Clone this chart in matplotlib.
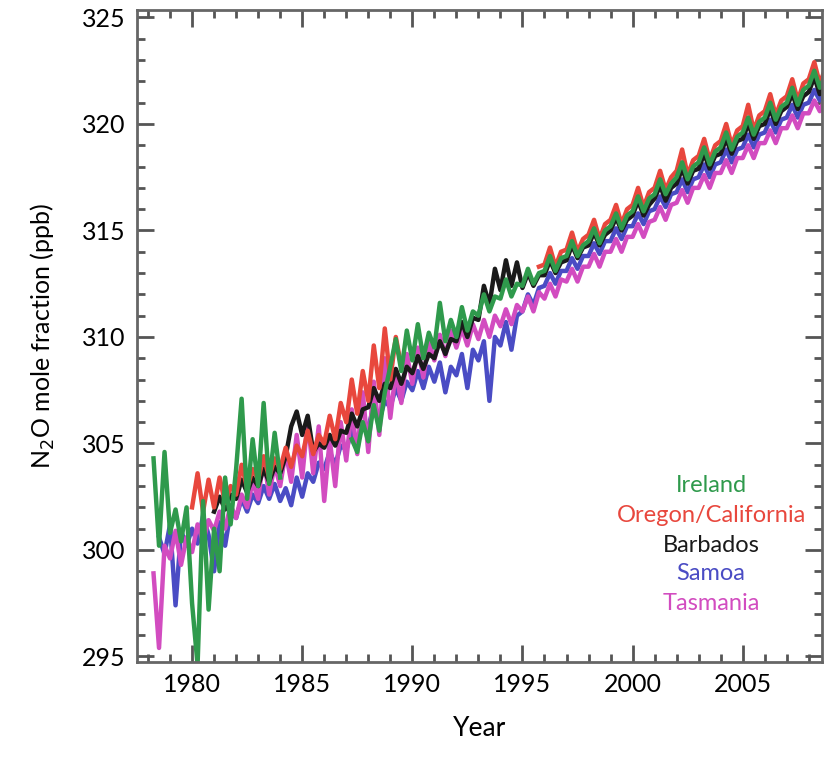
import numpy as np
import matplotlib.pyplot as plt
from matplotlib.ticker import MultipleLocator

plt.rcParams['font.family'] = ['Lato', 'DejaVu Sans']

# quarterly N2O values (ppb), each segment starts at the given year
ireland_a_start = 1978.25
ireland_a = [304.3, 300.2, 304.6,
             300.8, 301.9, 300.4, 302.0,
             297.5, 294.6, 302.3, 297.2,
             301.0, 299.0, 303.4, 301.2,
             303.8, 307.1, 302.4, 305.2,
             303.0, 306.9, 303.1, 305.5,
             303.4]

ireland_b_start = 1987.25
ireland_b = [305.2, 304.6, 306.0,
             305.1, 306.8, 305.6, 307.4,
             308.6, 309.9, 308.4, 310.3,
             308.9, 310.6, 309.0, 310.2,
             309.5, 311.6, 309.8, 310.8,
             310.0, 311.4, 310.3, 311.2,
             311.0, 312.0, 311.2, 311.9,
             311.8, 312.7, 311.9, 312.5,
             312.4, 313.2, 312.5, 313.0,
             313.1, 313.8, 313.1, 313.7,
             313.8, 314.5, 313.8, 314.3,
             314.5, 315.1, 314.4, 315.0,
             315.2, 315.8, 315.1, 315.7,
             315.9, 316.6, 315.9, 316.5,
             316.7, 317.4, 316.7, 317.2,
             317.5, 318.2, 317.4, 318.0,
             318.2, 318.9, 318.1, 318.7,
             318.9, 319.6, 318.8, 319.4,
             319.6, 320.3, 319.5, 320.1,
             320.3, 321.0, 320.2, 320.8,
             321.0, 321.7, 320.9, 321.6,
             321.8, 322.5, 321.7, 322.3]

oregon_start = 1980.0
oregon = [302.0, 303.6, 301.8, 303.3,
          302.0, 303.4, 302.2, 303.0,
          302.6, 304.0, 302.9, 303.8,
          303.3, 304.4, 303.4, 304.3,
          303.8, 304.8, 303.9, 304.9,
          304.4, 305.6, 304.5, 305.4,
          305.0, 306.3, 305.2, 306.9,
          306.0, 308.0, 306.4, 308.4,
          307.0, 309.6, 307.6, 310.4,
          308.0, 310.0, 308.6]

california_start = 1995.75
california = [313.3,
              313.4, 314.2, 313.3, 314.0,
              314.1, 314.9, 314.0, 314.6,
              314.8, 315.5, 314.6, 315.3,
              315.5, 316.2, 315.3, 316.0,
              316.2, 317.0, 316.1, 316.8,
              317.0, 317.8, 316.9, 317.5,
              317.8, 318.8, 317.6, 318.3,
              318.5, 319.3, 318.3, 319.0,
              319.2, 320.0, 319.0, 319.7,
              319.9, 320.9, 319.7, 320.4,
              320.6, 321.4, 320.4, 321.1,
              321.3, 322.1, 321.1, 321.9,
              322.1, 322.9, 321.9, 322.6]

barbados_start = 1981.0
barbados = [301.8, 302.5, 301.9, 302.6,
            302.4, 303.3, 302.7, 303.4,
            303.0, 303.8, 303.2, 303.9,
            303.6, 304.4, 305.8, 306.5,
            305.4, 306.3, 304.6, 305.0,
            304.8, 305.4, 304.9, 305.6,
            305.5, 306.4, 305.8, 306.6,
            306.7, 307.6, 307.0, 307.8,
            307.6, 308.5, 307.8, 308.6,
            308.3, 309.1, 308.5, 309.2,
            309.0, 309.8, 309.2, 309.9,
            309.8, 310.7, 310.0, 310.9,
            310.8, 312.4, 311.5, 313.2,
            312.2, 313.6, 312.4, 313.5,
            312.3, 313.0, 312.4, 312.9,
            312.9, 313.6, 313.0, 313.5,
            313.6, 314.3, 313.7, 314.2,
            314.3, 314.9, 314.3, 314.8,
            315.0, 315.6, 315.0, 315.5,
            315.7, 316.4, 315.7, 316.2,
            316.5, 317.1, 316.4, 317.0,
            317.2, 317.9, 317.2, 317.8,
            317.9, 318.6, 317.9, 318.5,
            318.6, 319.3, 318.6, 319.2,
            319.3, 320.0, 319.3, 319.9,
            320.0, 320.7, 320.0, 320.6,
            320.8, 321.4, 320.7, 321.3,
            321.5, 322.2, 321.4, 322.0]

samoa_start = 1978.5
samoa = [300.6, 299.8,
         301.2, 297.4, 300.9, 300.2,
         301.0, 300.3, 301.6, 300.7,
         299.0, 301.3, 300.2, 301.8,
         301.5, 302.4, 301.8, 302.6,
         302.2, 303.0, 302.4, 303.1,
         302.3, 302.9, 302.1, 303.4,
         302.5, 303.6, 303.2, 304.1,
         303.8, 304.6, 304.0, 304.9,
         304.7, 305.6, 305.0, 305.9,
         305.8, 306.7, 306.1, 307.0,
         306.7, 307.6, 307.0, 307.9,
         307.5, 308.4, 307.6, 308.6,
         307.9, 308.8, 307.4, 308.6,
         308.2, 309.2, 307.6, 309.4,
         308.9, 309.8, 307.0, 310.0,
         309.6, 310.7, 309.4, 311.0,
         311.2, 312.0, 311.5, 312.3,
         312.4, 313.0, 312.5, 313.1,
         313.1, 313.7, 313.2, 313.8,
         313.8, 314.4, 313.9, 314.5,
         314.5, 315.1, 314.6, 315.2,
         315.2, 315.8, 315.3, 315.9,
         316.0, 316.6, 316.1, 316.7,
         316.8, 317.4, 316.8, 317.4,
         317.5, 318.1, 317.5, 318.1,
         318.2, 318.8, 318.2, 318.8,
         318.9, 319.5, 318.9, 319.5,
         319.6, 320.2, 319.6, 320.2,
         320.3, 320.9, 320.3, 320.9,
         321.0, 321.6, 321.1, 321.7]

tasmania_start = 1978.25
tasmania = [298.9, 295.4, 300.2,
            299.6, 300.9, 299.3, 300.6,
            299.9, 301.2, 300.4, 301.4,
            300.9, 301.8, 301.0, 302.1,
            301.5, 302.6, 302.0, 303.2,
            302.4, 304.3, 302.6, 304.0,
            303.0, 304.6, 303.2, 305.4,
            303.4, 306.1, 303.6, 305.8,
            302.3, 305.2, 303.0, 306.0,
            304.2, 306.6, 304.5, 307.4,
            304.6, 307.9, 305.4, 309.0,
            306.2, 308.4, 306.9, 309.2,
            307.8, 309.5, 308.1, 309.8,
            308.9, 310.1, 309.1, 310.3,
            309.5, 310.4, 309.6, 310.6,
            309.9, 310.8, 310.0, 311.0,
            310.5, 311.3, 310.6, 311.5,
            311.2, 311.9, 311.2, 312.1,
            311.8, 312.5, 311.9, 312.7,
            312.6, 313.2, 312.6, 313.3,
            313.3, 313.9, 313.3, 314.0,
            314.0, 314.6, 314.0, 314.7,
            314.7, 315.3, 314.7, 315.4,
            315.5, 316.1, 315.5, 316.2,
            316.3, 316.9, 316.3, 317.0,
            317.0, 317.6, 317.0, 317.7,
            317.7, 318.3, 317.7, 318.4,
            318.4, 319.0, 318.4, 319.1,
            319.1, 319.7, 319.1, 319.8,
            319.8, 320.4, 319.8, 320.5,
            320.5, 321.1, 320.6, 321.2]

station_names = ['Ireland', 'Oregon/California', 'Barbados', 'Samoa', 'Tasmania']
green = '#2f9a4c'
red = '#e8473d'
black = '#1a1a1a'
blue = '#4a4cc4'
magenta = '#d24cc0'


def qyears(start, vals):
    return start + 0.25 * np.arange(len(vals))


fig = plt.figure(figsize=(8.24, 7.61), dpi=100)
ax = fig.add_axes([137/824, 1-662/761, 685/824, 652/761])

lw = 3.2
ax.plot(qyears(samoa_start, samoa), samoa, color=blue, lw=lw)
ax.plot(qyears(tasmania_start, tasmania), tasmania, color=magenta, lw=lw)
ax.plot(qyears(barbados_start, barbados), barbados, color=black, lw=lw)
ax.plot(qyears(oregon_start, oregon), oregon, color=red, lw=lw)
ax.plot(qyears(california_start, california), california, color=red, lw=lw)
ax.plot(qyears(ireland_a_start, ireland_a), ireland_a, color=green, lw=lw)
ax.plot(qyears(ireland_b_start, ireland_b), ireland_b, color=green, lw=lw)

ax.set_xlim(1977.5, 2008.6)
ax.set_ylim(294.74, 325.35)
ax.xaxis.set_major_locator(MultipleLocator(5))
ax.xaxis.set_minor_locator(MultipleLocator(1))
ax.yaxis.set_major_locator(MultipleLocator(5))
ax.yaxis.set_minor_locator(MultipleLocator(1))
ax.tick_params(which='both', direction='in', top=True, right=True,
               color='#555555', width=2)
ax.tick_params(which='major', length=12, labelsize=18, pad=8)
ax.tick_params(which='minor', length=6)
for s in ax.spines.values():
    s.set_color('#666666')
    s.set_linewidth(2)

ax.set_xlabel('Year', fontsize=19, labelpad=14)
ax.set_ylabel('N$_2$O mole fraction (ppb)', fontsize=18, labelpad=18)

label_colors = [green, red, black, blue, magenta]
label_y = [486, 516, 546, 574, 603]
for name, c, yp in zip(station_names, label_colors, label_y):
    fig.text(711/824, 1-yp/761, name, color=c, fontsize=17,
             ha='center', va='center')

fig.savefig('out.png', dpi=100)
